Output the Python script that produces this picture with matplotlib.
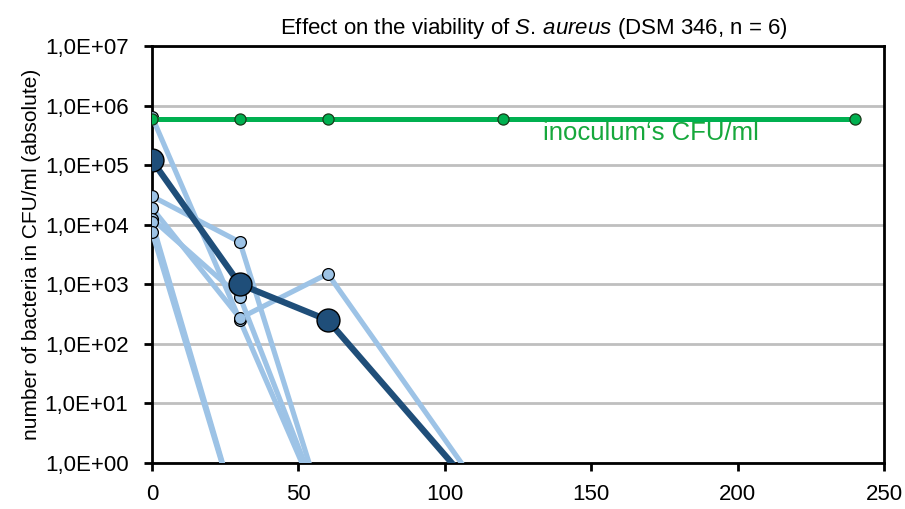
import numpy as np
import matplotlib
matplotlib.use("Agg")
from matplotlib import pyplot as plt
from matplotlib.ticker import FuncFormatter, NullLocator

plt.rcParams['font.family'] = ['Liberation Sans', 'DejaVu Sans']
plt.rcParams['mathtext.fontset'] = 'custom'
plt.rcParams['mathtext.rm'] = 'Liberation Sans'
plt.rcParams['mathtext.it'] = 'Liberation Sans:italic'

# time in minutes, CFU/ml (0.1 = nothing left, drawn below the axis)
time = [0, 30, 60, 120, 240]
inoculum = [5.9e5, 5.9e5, 5.9e5, 5.9e5, 5.9e5]
rep1 = [6.5e5, 2.5e2, 0.1, 0.1, 0.1]
rep2 = [3.0e4, 5.1e3, 0.1, 0.1, 0.1]
rep3 = [1.9e4, 2.7e2, 1.5e3, 0.1, 0.1]
rep4 = [1.25e4, 6.2e2, 0.1, 0.1, 0.1]
rep5 = [1.1e4, 0.1, 0.1, 0.1, 0.1]
rep6 = [7.6e3, 0.1, 0.1, 0.1, 0.1]
mean = [1.2e5, 1.0e3, 2.5e2, 0.1, 0.1]
replicates = [rep1, rep2, rep3, rep4, rep5, rep6]

light = '#9DC3E6'
dark = '#1F4E79'
green = '#00B050'

fig = plt.figure(figsize=(9.05, 5.09), dpi=100)
ax = fig.add_axes([0.168, 0.0904, 0.809, 0.8192])

for r in replicates:
    ax.plot(time, r, color=light, lw=3.7, marker='o', ms=8.5,
            mfc=light, mec='black', mew=0.9, zorder=3)

ax.plot(time, mean, color=dark, lw=4.5, marker='o', ms=16.5,
        mfc=dark, mec='black', mew=1.0, zorder=4)

ax.plot(time, inoculum, color=green, lw=3.6, marker='o', ms=8,
        mfc=green, mec='#1a3a1a', mew=0.9, zorder=5)

ax.text(133.5, 3.4e5, 'inoculum\u2018s CFU/ml', color='#16A83C', fontsize=18.5,
        va='center', ha='left', zorder=6)

ax.set_yscale('log')
ax.set_ylim(1, 1e7)
ax.set_xlim(0, 250)
ax.set_xticks([0, 50, 100, 150, 200, 250])
ax.set_yticks([10.0 ** k for k in range(8)])
ax.yaxis.set_minor_locator(NullLocator())

def sci_comma(v, pos):
    e = int(round(np.log10(v)))
    return '1,0E+%02d' % e

ax.yaxis.set_major_formatter(FuncFormatter(sci_comma))

ax.grid(axis='y', color='#BFBFBF', lw=2, zorder=0)
ax.set_axisbelow(True)
for s in ax.spines.values():
    s.set_linewidth(2)
    s.set_color('black')
ax.tick_params(axis='both', direction='out', length=6, width=2, labelsize=16)
ax.tick_params(axis='y', pad=11)
ax.tick_params(axis='x', pad=9)

ax.set_ylabel('number of bacteria in CFU/ml (absolute)', fontsize=15, labelpad=3)
ax.set_title('Effect on the viability of $\\mathit{S.}\\,\\mathit{aureus}$ (DSM 346, n = 6)',
             fontsize=16, pad=9, x=0.522)

fig.savefig('out.png', dpi=100)
